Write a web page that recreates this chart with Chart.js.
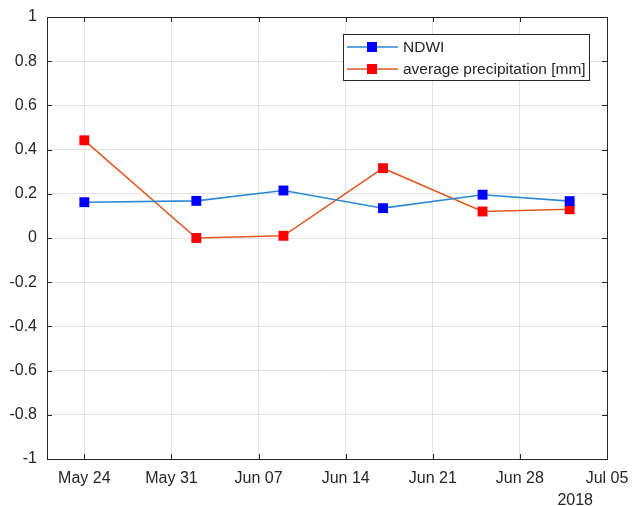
<!DOCTYPE html>
<html>
<head>
<meta charset="utf-8">
<script src="https://cdn.jsdelivr.net/npm/chart.js@4"></script>
<style>
  body { margin: 0; background: #fff; }
  canvas { display: block; }
</style>
</head>
<body>
<canvas id="chart" width="633" height="506"></canvas>
<script>
// days counted from May 24 2018
const obsDays = [0, 9, 16, 24, 32, 39];
const ndwi = [0.162, 0.168, 0.215, 0.135, 0.196, 0.167];
const precip = [0.442, 0.0, 0.01, 0.316, 0.12, 0.13];

const tickDays = [0, 7, 14, 21, 28, 35, 42];
const tickLabels = ["May 24", "May 31", "Jun 07", "Jun 14", "Jun 21", "Jun 28", "Jul 05"];
const yearLabel = "2018";

const xMin = -3, xMax = 42;
const yTicks = [-1, -0.8, -0.6, -0.4, -0.2, 0, 0.2, 0.4, 0.6, 0.8, 1];

const axisColor = "#262626";
const fontFamily = "'Liberation Sans', Arial, sans-serif";

const toPoints = (vals) => vals.map((v, i) => ({ x: obsDays[i], y: v }));

const series = [
  { label: "NDWI", data: ndwi, line: "#2f88d2", marker: "#0000ff" },
  { label: "average precipitation [mm]", data: precip, line: "#dc5a22", marker: "#ff0000" },
];

// box around plot + inward ticks like matlab
const boxPlugin = {
  id: "box",
  afterDatasetsDraw(chart) {
    const { ctx, chartArea: a, scales } = chart;
    ctx.save();
    ctx.strokeStyle = axisColor;
    ctx.lineWidth = 1;
    ctx.beginPath();
    const len = 5;
    tickDays.forEach((d) => {
      const x = Math.round(scales.x.getPixelForValue(d)) + 0.5;
      ctx.moveTo(x, a.bottom); ctx.lineTo(x, a.bottom - len);
      ctx.moveTo(x, a.top); ctx.lineTo(x, a.top + len);
    });
    yTicks.forEach((v) => {
      const y = Math.round(scales.y.getPixelForValue(v)) + 0.5;
      ctx.moveTo(a.left, y); ctx.lineTo(a.left + len, y);
      ctx.moveTo(a.right, y); ctx.lineTo(a.right - len, y);
    });
    ctx.stroke();
    ctx.strokeRect(Math.round(a.left) + 0.5, Math.round(a.top) + 0.5,
      Math.round(a.right - a.left), Math.round(a.bottom - a.top));

    // year under last tick
    ctx.fillStyle = axisColor;
    ctx.font = "16px " + fontFamily;
    ctx.textAlign = "right";
    ctx.textBaseline = "middle";
    ctx.fillText(yearLabel, a.right - 14, a.bottom + 42);
    ctx.restore();
  },
  afterDraw(chart) {
    // legend box in the upper right
    const { ctx } = chart;
    const bx = 343.5, by = 34.5, bw = 246, bh = 46;
    ctx.save();
    ctx.fillStyle = "#fff";
    ctx.fillRect(bx, by, bw, bh);
    ctx.strokeStyle = axisColor;
    ctx.lineWidth = 1;
    ctx.strokeRect(bx, by, bw, bh);
    ctx.font = "15.5px " + fontFamily;
    ctx.textBaseline = "middle";
    ctx.textAlign = "left";
    series.forEach((s, i) => {
      const y = 47 + i * 22;
      ctx.strokeStyle = s.line;
      ctx.lineWidth = 1.6;
      ctx.beginPath();
      ctx.moveTo(347, y); ctx.lineTo(398, y);
      ctx.stroke();
      ctx.fillStyle = s.marker;
      ctx.fillRect(367, y - 5, 10, 10);
      ctx.fillStyle = axisColor;
      ctx.fillText(s.label, 403, y + 1);
    });
    ctx.restore();
  },
};

new Chart(document.getElementById("chart"), {
  type: "line",
  data: {
    datasets: series.map((s) => ({
      label: s.label,
      data: toPoints(s.data),
      borderColor: s.line,
      borderWidth: 1.6,
      backgroundColor: s.marker,
      pointBackgroundColor: s.marker,
      pointBorderColor: s.marker,
      pointBorderWidth: 0,
      pointStyle: "rect",
      pointRadius: 7,
      tension: 0,
    })),
  },
  options: {
    responsive: false,
    animation: false,
    layout: { padding: { top: 17, right: 26, left: 0, bottom: 0 } },
    plugins: {
      legend: { display: false },
      tooltip: { enabled: false },
    },
    scales: {
      x: {
        type: "linear",
        min: xMin,
        max: xMax,
        afterBuildTicks: (scale) => {
          scale.ticks = tickDays.map((d) => ({ value: d }));
        },
        afterFit: (scale) => {
          scale.height = 47;
          scale.paddingLeft = 0;
          scale.paddingRight = 0;
        },
        ticks: {
          padding: 10,
          color: axisColor,
          font: { family: fontFamily, size: 16 },
          maxRotation: 0,
          autoSkip: false,
          callback: (v) => tickLabels[tickDays.indexOf(v)],
        },
        grid: { color: "#e3e3e3", drawTicks: false },
        border: { color: axisColor },
      },
      y: {
        min: -1,
        max: 1,
        afterBuildTicks: (scale) => {
          scale.ticks = yTicks.map((v) => ({ value: v }));
        },
        afterFit: (scale) => {
          scale.width = 47;
          scale.paddingTop = 0;
          scale.paddingBottom = 0;
        },
        ticks: {
          padding: 10,
          color: axisColor,
          font: { family: fontFamily, size: 16 },
          callback: (v) => String(Number(v.toFixed(1))),
        },
        grid: { color: "#e3e3e3", drawTicks: false },
        border: { color: axisColor },
      },
    },
  },
  plugins: [boxPlugin],
});
</script>
</body>
</html>
